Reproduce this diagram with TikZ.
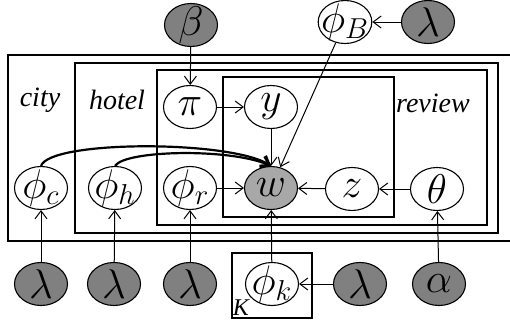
\documentclass[tikz,border=0pt]{standalone}
\usepackage{fontspec}
\setmainfont{Liberation Serif}
\usetikzlibrary{shapes.geometric,arrows.meta}

\definecolor{hypgray}{RGB}{128,128,128}
\definecolor{obsgray}{RGB}{168,168,168}

\begin{document}
\begin{tikzpicture}[x=0.5pt,y=-0.5pt,
  var/.style={draw,ellipse,line width=0.55pt,minimum width=26.5pt,minimum height=21.5pt,inner sep=-2.5pt,font=\fontsize{20}{22}\selectfont},
  hyper/.style={var,fill=hypgray},
  obs/.style={var,fill=obsgray},
  edge/.style={line width=0.5pt,-{Straight Barb[length=4pt,width=6pt]}},
  plate/.style={line width=0.6pt},
  platelabel/.style={font=\fontsize{14}{16}\selectfont\itshape}]
\useasboundingbox (0,0) rectangle (510,327);

%% Plates
\draw[plate] (510,55) -- (8,55) -- (8,241) -- (510,241);
\draw[plate] (75,63) rectangle (498,233);
\draw[plate] (157,70) rectangle (487,225);
\draw[plate] (223,77) rectangle (394,217);
\draw[plate] (232,253) rectangle (312,318);
\node[platelabel] at (40,100) {city};
\node[platelabel] at (117,100) {hotel};
\node[platelabel] at (433,103) {review};
\node[font=\fontsize{12}{14}\selectfont\itshape] at (241,308) {K};

%% Variables
\node[hyper] (beta) at (191,25) {$\beta$};
\node[var] (phiB) at (345,22) {$\phi_B$};
\node[hyper] (lamB) at (428,22) {$\lambda$};
\node[var] (pi) at (190,107) {$\pi$};
\node[var] (y) at (271,107) {$y$};
\node[var] (phic) at (41,188) {$\phi_c$};
\node[var] (phih) at (115,188) {$\phi_h$};
\node[var] (phir) at (190,188) {$\phi_r$};
\node[obs] (w) at (271,188) {$w$};
\node[var] (z) at (352,189) {$z$};
\node[var] (theta) at (437,189) {$\theta$};
\node[hyper] (lamc) at (41,284) {$\lambda$};
\node[hyper] (lamh) at (114,284) {$\lambda$};
\node[hyper] (lamr) at (190,284) {$\lambda$};
\node[var] (phik) at (272,284) {$\phi_k$};
\node[hyper] (lamk) at (360,284) {$\lambda$};
\node[hyper] (alpha) at (439,284) {$\alpha$};

%% Edges
\draw[edge] (beta) -- (pi);
\draw[edge] (lamB) -- (phiB);
\draw[edge] (phiB) -- (w);
\draw[edge] (pi) -- (y);
\draw[edge] (y) -- (w);
\draw[edge] (phir) -- (w);
\draw[edge] (z) -- (w);
\draw[edge] (theta) -- (z);
\draw[edge] (phik) -- (w);
\draw[edge] (lamk) -- (phik);
\draw[edge] (alpha) -- (theta);
\draw[edge] (lamc) -- (phic);
\draw[edge] (lamh) -- (phih);
\draw[edge] (lamr) -- (phir);
%% city and hotel words
\draw[edge,line width=1.1pt] (phic.north) .. controls (50,140) and (230,140) .. (w.north);
\draw[edge,line width=1.1pt] (phih.north) .. controls (125,150) and (230,148) .. (w.north);

\end{tikzpicture}
\end{document}
